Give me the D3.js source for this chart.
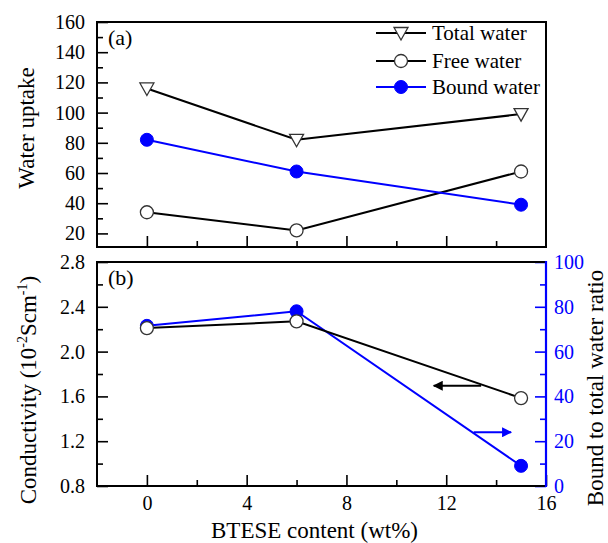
<!DOCTYPE html>
<html>
<head>
<meta charset="utf-8">
<script src="https://cdn.jsdelivr.net/npm/d3@7"></script>
<style>
  body { margin: 0; background: #fff; }
  svg { display: block; }
  text, tspan { font-family: "Liberation Serif", "DejaVu Serif", serif !important; }
  .tick text { font-size: 20px; }
</style>
</head>
<body>
<div id="container"></div>
<script>
// data
const btese = [0, 6, 15];
const totalWater = [116, 82, 99];
const freeWater = [34, 22, 61];
const boundWater = [82, 61, 39];
const conductivity = [2.21, 2.27, 1.585];
const boundRatio = [71.5, 78, 9];

const xTicks = [0, 4, 8, 12, 16];
const xMinor = [2, 6, 10, 14];
const uptakeTicks = [20, 40, 60, 80, 100, 120, 140, 160];
const uptakeMinor = [30, 50, 70, 90, 110, 130, 150];
const condTicks = [0.8, 1.2, 1.6, 2.0, 2.4, 2.8];
const condMinor = [1.0, 1.4, 1.8, 2.2, 2.6];
const ratioTicks = [0, 20, 40, 60, 80, 100];
const ratioMinor = [10, 30, 50, 70, 90];

const legendNames = ["Total water", "Free water", "Bound water"];
// arrows: [x start, x end, y value]
const condArrow = [13.4, 11.5, 1.695];
const ratioArrow = [13.1, 14.6, 24];

const w = 608, h = 543;
const left = 97, right = 546;
const aTop = 22, aBot = 247;
const bTop = 262, bBot = 486;
const blue = "#0000ff";
const serif = "'Liberation Serif', 'DejaVu Serif', serif";

const svg = d3.select("#container").append("svg")
  .attr("width", w).attr("height", h)
  .attr("font-family", serif);

const x = d3.scaleLinear().domain([-2, 16]).range([left, right]);
const yA = d3.scaleLinear().domain([11, 160]).range([aBot, aTop]);
const yB = d3.scaleLinear().domain([0.8, 2.8]).range([bBot, bTop]);
const yR = d3.scaleLinear().domain([0, 100]).range([bBot, bTop]);

function drawAxis(axis, tx, ty, color) {
  const g = svg.append("g")
    .attr("transform", "translate(" + tx + "," + ty + ")")
    .call(axis)
    .attr("font-family", serif)
    .attr("font-size", 20);
  g.select(".domain").remove();
  g.selectAll(".tick line").attr("stroke", color).attr("stroke-width", 1.6);
  g.selectAll(".tick text").attr("fill", color);
  return g;
}

// panel (a) axes
drawAxis(d3.axisLeft(yA).tickValues(uptakeTicks).tickSize(-11).tickPadding(12), left, 0, "#000");
drawAxis(d3.axisLeft(yA).tickValues(uptakeMinor).tickSize(-6).tickFormat(""), left, 0, "#000");
drawAxis(d3.axisBottom(x).tickValues(xTicks.slice(0, 4)).tickSize(-11).tickFormat(""), 0, aBot, "#000");
drawAxis(d3.axisBottom(x).tickValues(xMinor).tickSize(-6).tickFormat(""), 0, aBot, "#000");

// panel (b) axes
drawAxis(d3.axisLeft(yB).tickValues(condTicks).tickSize(-11).tickPadding(12).tickFormat(d3.format(".1f")), left, 0, "#000");
drawAxis(d3.axisLeft(yB).tickValues(condMinor).tickSize(-6).tickFormat(""), left, 0, "#000");
drawAxis(d3.axisBottom(x).tickValues(xTicks).tickSize(-11).tickPadding(10), 0, bBot, "#000");
drawAxis(d3.axisBottom(x).tickValues(xMinor).tickSize(-6).tickFormat(""), 0, bBot, "#000");
drawAxis(d3.axisRight(yR).tickValues(ratioTicks).tickSize(-11).tickPadding(8), right, 0, blue);
drawAxis(d3.axisRight(yR).tickValues(ratioMinor).tickSize(-6).tickFormat(""), right, 0, blue);

// frames
svg.append("rect")
  .attr("x", left).attr("y", aTop)
  .attr("width", right - left).attr("height", aBot - aTop)
  .attr("fill", "none").attr("stroke", "#000").attr("stroke-width", 2);
svg.append("path")
  .attr("d", "M" + right + "," + bTop + "H" + left + "V" + bBot + "H" + right)
  .attr("fill", "none").attr("stroke", "#000").attr("stroke-width", 2);
svg.append("line")
  .attr("x1", right).attr("x2", right).attr("y1", bTop - 1).attr("y2", bBot + 1)
  .attr("stroke", blue).attr("stroke-width", 2.2);

// markers
const triPath = "M-7,-5.5L7,-5.5L0,7Z";
function addSeries(ys, yScale, color, marker) {
  const pts = btese.map((d, i) => [x(d), yScale(ys[i])]);
  svg.append("path")
    .attr("d", d3.line()(pts))
    .attr("fill", "none").attr("stroke", color).attr("stroke-width", 2);
  pts.forEach(p => drawMarker(p[0], p[1], color, marker));
}
function drawMarker(px, py, color, marker) {
  if (marker === "tri") {
    svg.append("path").attr("d", triPath)
      .attr("transform", "translate(" + px + "," + py + ")")
      .attr("fill", "#fff").attr("stroke", "#333").attr("stroke-width", 1.3);
  } else if (marker === "open") {
    svg.append("circle").attr("cx", px).attr("cy", py).attr("r", 6.5)
      .attr("fill", "#fff").attr("stroke", "#333").attr("stroke-width", 1.3);
  } else {
    svg.append("circle").attr("cx", px).attr("cy", py).attr("r", 6.5)
      .attr("fill", color).attr("stroke", color).attr("stroke-width", 1);
  }
}

addSeries(totalWater, yA, "#000", "tri");
addSeries(freeWater, yA, "#000", "open");
addSeries(boundWater, yA, blue, "fill");

addSeries(boundRatio, yR, blue, "fill");
addSeries(conductivity, yB, "#000", "open");

// arrows
const defs = svg.append("defs");
[["headK", "#000"], ["headB", blue]].forEach(([id, c]) => {
  defs.append("marker").attr("id", id)
    .attr("viewBox", "0 0 10 10").attr("refX", 9).attr("refY", 5)
    .attr("markerWidth", 6).attr("markerHeight", 5).attr("orient", "auto")
    .attr("markerUnits", "strokeWidth")
    .append("path").attr("d", "M0,0L10,5L0,10Z").attr("fill", c);
});
svg.append("line")
  .attr("x1", x(condArrow[0])).attr("x2", x(condArrow[1]))
  .attr("y1", yB(condArrow[2])).attr("y2", yB(condArrow[2]))
  .attr("stroke", "#000").attr("stroke-width", 2).attr("marker-end", "url(#headK)");
svg.append("line")
  .attr("x1", x(ratioArrow[0])).attr("x2", x(ratioArrow[1]))
  .attr("y1", yR(ratioArrow[2])).attr("y2", yR(ratioArrow[2]))
  .attr("stroke", blue).attr("stroke-width", 2).attr("marker-end", "url(#headB)");

// legend
const legMarkers = ["tri", "open", "fill"];
const legColors = ["#000", "#000", blue];
const legY = [33, 61, 87];
legendNames.forEach((name, i) => {
  svg.append("line")
    .attr("x1", 376).attr("x2", 426).attr("y1", legY[i]).attr("y2", legY[i])
    .attr("stroke", legColors[i]).attr("stroke-width", 2);
  drawMarker(401, legY[i], legColors[i], legMarkers[i]);
  svg.append("text")
    .attr("x", 432).attr("y", legY[i]).attr("dy", "0.35em")
    .attr("font-size", 21).text(name);
});

// panel labels
svg.append("text").attr("x", 108).attr("y", 45).attr("font-size", 22).text("(a)");
svg.append("text").attr("x", 108).attr("y", 285).attr("font-size", 22).text("(b)");

// axis titles
svg.append("text")
  .attr("transform", "translate(34,128) rotate(-90)")
  .attr("text-anchor", "middle").attr("font-size", 23)
  .text("Water uptake");

const condTitle = svg.append("text")
  .attr("transform", "translate(36,390) rotate(-90)")
  .attr("text-anchor", "middle").attr("font-size", 23);
condTitle.append("tspan").text("Conductivity (10");
condTitle.append("tspan").attr("font-size", 14).attr("dy", -9).text("-2");
condTitle.append("tspan").attr("dy", 9).text("Scm");
condTitle.append("tspan").attr("font-size", 14).attr("dy", -9).text("-1");
condTitle.append("tspan").attr("dy", 9).text(")");

svg.append("text")
  .attr("transform", "translate(603,388) rotate(-90)")
  .attr("text-anchor", "middle").attr("font-size", 23)
  .text("Bound to total water ratio");

svg.append("text")
  .attr("x", (left + right) / 2 - 7).attr("y", 538)
  .attr("text-anchor", "middle").attr("font-size", 23)
  .text("BTESE content (wt%)");
</script>
</body>
</html>
